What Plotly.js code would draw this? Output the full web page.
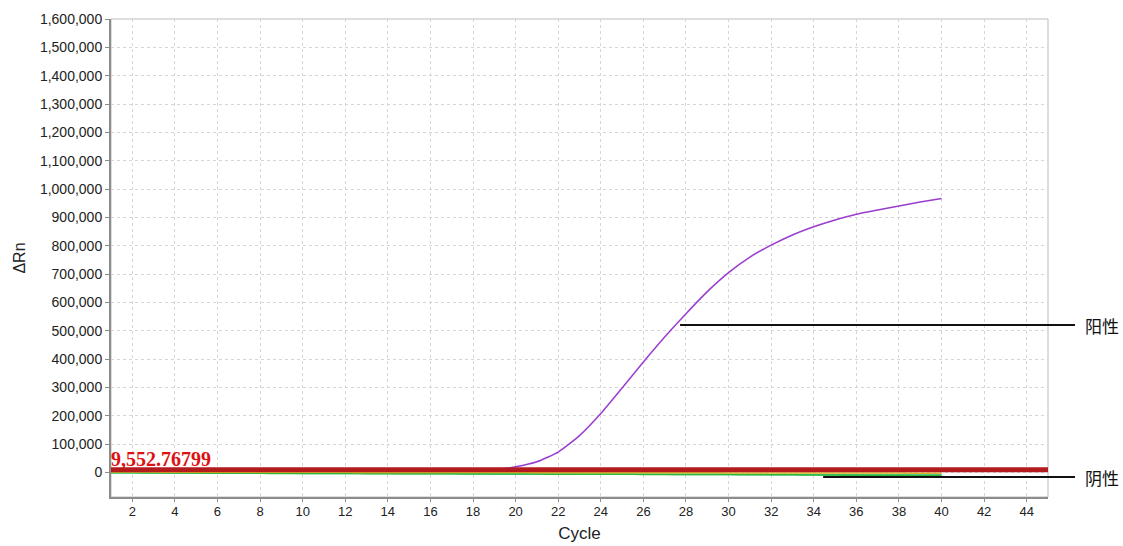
<!DOCTYPE html>
<html>
<head>
<meta charset="utf-8">
<script src="https://cdn.plot.ly/plotly-3.0.1.min.js"></script>
<style>
html,body{margin:0;padding:0;background:#fff;}
#chart{width:1123px;height:546px;}
</style>
</head>
<body>
<div id="chart"></div>
<script>
// Data
var cycles = [1,2,3,4,5,6,7,8,9,10,11,12,13,14,15,16,17,18,19,20,21,22,23,24,25,26,27,28,29,30,31,32,33,34,35,36,37,38,39,40];
var positive = [4000,4200,4300,4200,4100,4300,4200,4400,4300,4500,4400,4600,4500,4700,4800,5000,5300,6000,8500,20000,38000,72000,130000,208000,298000,390000,478000,560000,638000,705000,760000,802000,838000,867000,891000,911000,926000,940000,954000,967000];
var negYellow = [1500,1400,1300,1200,1100,1000,900,800,700,600,500,400,300,200,100,0,-100,-200,-300,-400,-500,-600,-700,-800,-900,-1000,-1100,-1200,-1300,-1400,-1500,-1600,-1700,-1800,-1900,-2000,-2100,-2200,-2300,-2400];
var negGreen = [-1000,-1300,-1600,-1900,-2200,-2500,-2800,-3000,-3300,-3500,-3700,-3900,-4100,-4300,-4500,-4700,-4900,-5100,-5300,-5500,-5700,-5900,-6100,-6300,-6500,-6700,-6800,-7000,-7200,-7400,-7700,-8000,-8400,-8800,-9200,-9500,-9800,-10100,-10400,-10700];
var negTeal = [-500,-800,-1100,-1400,-1700,-2000,-2300,-2600,-2900,-3200,-3400,-3600,-3800,-4000,-4200,-4400,-4600,-4800,-5000,-5200,-5400,-5600,-5800,-6000,-6200,-6400,-6600,-6800,-7000,-7200,-7400,-7600,-7800,-8000,-8200,-8400,-8600,-8800,-9000,-9200];
var negPale = [0,-200,-400,-600,-800,-1000,-1200,-1400,-1600,-1800,-2000,-2200,-2400,-2600,-2800,-3000,-3200,-3400,-3600,-3800,-4000,-4200,-4400,-4600,-4800,-5000,-5200,-5400,-5600,-5800,-6000,-6200,-6400,-6600,-6800,-7000,-7200,-7400,-7600,-7800];
var thresholdX = [1,45];
var thresholdValue = 9552.76799;
var thresholdLabel = "9,552.76799";
var labels = ["阳性","阴性"];

var font = "Liberation Sans, Arial, sans-serif";
function line(y, color, w){
  return {x: cycles, y: y, type:'scatter', mode:'lines', line:{color:color, width:w, shape:'spline', smoothing:0.5}, hoverinfo:'skip'};
}
var traces = [
  line(negPale, '#a8eca0', 1.5),
  line(negTeal, '#3cc8a0', 1.5),
  line(negGreen, '#2fb53a', 1.5),
  line(negYellow, '#e0b428', 1.5),
  line(positive, '#9a3ccf', 1.5),
  {x: thresholdX, y: [thresholdValue, thresholdValue], type:'scatter', mode:'lines', line:{color:'#b31b1f', width:5}, hoverinfo:'skip'}
];

var layout = {
  width:1123, height:546,
  margin:{l:111, r:75, t:19, b:49},
  paper_bgcolor:'#fff', plot_bgcolor:'#fff',
  showlegend:false,
  font:{family:font, color:'#222'},
  xaxis:{
    range:[1,45], tick0:2, dtick:2, autorange:false,
    showgrid:true, gridcolor:'#d6d6d6', griddash:'3px,3px', gridwidth:1,
    zeroline:false, showline:true, linecolor:'#8c8c8c', linewidth:2,
    ticks:'outside', ticklen:3, tickcolor:'#8c8c8c', ticklabelstandoff:-2,
    tickfont:{size:13, color:'#222', family:font},
    title:{text:'Cycle', font:{size:17, color:'#222', family:font}, standoff:10}
  },
  yaxis:{
    range:[-86500,1600000], autorange:false, tick0:0, dtick:100000, tickformat:',d',
    showgrid:true, gridcolor:'#d6d6d6', griddash:'3px,3px', gridwidth:1,
    zeroline:false, showline:true, linecolor:'#8c8c8c', linewidth:2,
    ticks:'outside', ticklen:4, tickcolor:'#8c8c8c',
    tickfont:{size:14, color:'#222', family:font},
    title:{text:'ΔRn', font:{size:16, color:'#222', family:font}, standoff:10}
  },
  shapes:[
    {type:'rect', xref:'paper', yref:'paper', x0:0, x1:1, y0:0, y1:1, line:{color:'#bdbdbd', width:1}, fillcolor:'rgba(0,0,0,0)', layer:'below'},
    {type:'line', xref:'paper', yref:'paper', x0:0.6073, x1:1.0288, y0:0.3598, y1:0.3598, line:{color:'#111', width:2}},
    {type:'line', xref:'paper', yref:'paper', x0:0.7600, x1:1.0288, y0:0.0418, y1:0.0418, line:{color:'#111', width:2}}
  ],
  annotations:[
    {xref:'paper', yref:'paper', x:1.0375, y:0.3598, xanchor:'left', yanchor:'middle', text:labels[0], showarrow:false, font:{size:17, color:'#111', family:'Noto Sans CJK SC'}},
    {xref:'paper', yref:'paper', x:1.0375, y:0.0418, xanchor:'left', yanchor:'middle', text:labels[1], showarrow:false, font:{size:17, color:'#111', family:'Noto Sans CJK SC'}},
    {xref:'paper', yref:'y', x:0.0, y:thresholdValue, xanchor:'left', yanchor:'bottom', yshift:-2, xshift:-2, text:'<b>'+thresholdLabel+'</b>', showarrow:false, font:{size:20, color:'#dd1111', family:'Liberation Serif, Times New Roman, serif'}}
  ]
};
Plotly.newPlot('chart', traces, layout, {staticPlot:true, displayModeBar:false});
</script>
</body>
</html>
